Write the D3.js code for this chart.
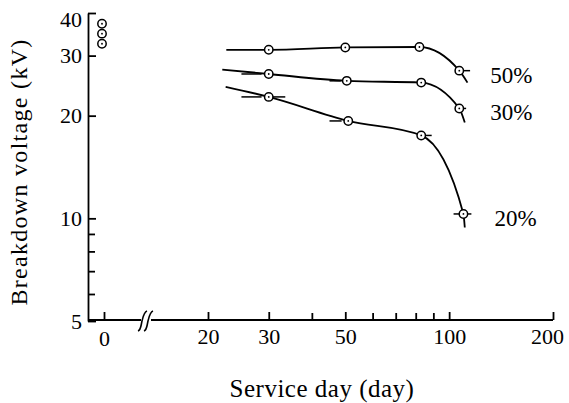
<!DOCTYPE html>
<html>
<head>
<meta charset="utf-8">
<script src="https://cdn.jsdelivr.net/npm/d3@7"></script>
<style>
body { margin: 0; background: #fff; }
text { font-family: "Liberation Serif", serif; fill: #000; }
</style>
</head>
<body>
<svg width="569" height="403"></svg>
<script>
// first and last entries of each series are the ends of the drawn line
var seriesNames = ['50%', '30%', '20%'];
var days50 = [22.6, 30, 50, 82, 107, 113];
var volts50 = [31.2, 31.2, 31.7, 31.8, 27.1, 25.0];
var days30 = [22, 30, 50.5, 83, 107, 111];
var volts30 = [27.3, 26.5, 25.3, 25.0, 21.0, 19.1];
var days20 = [22.5, 30, 51, 83, 110, 111];
var volts20 = [24.3, 22.7, 19.3, 17.5, 10.3, 9.4];
var initialVolts = [37.2, 34.8, 32.5]; // service day 0
// scatter dashes: [kV, from day, to day]
var dashes = [
  [26.5, 25, 28.6], [22.7, 25, 28.6], [22.7, 30.8, 33.5],
  [25.3, 45, 48.5], [19.3, 45, 48.8], [17.5, 85, 89],
  [27.1, 104, 115], [21.0, 104, 112], [10.3, 103, 116]
];
var yTicks = [5, 10, 20, 30, 40];
var yMinor = [6, 7, 8, 9];
var xTicks = [20, 30, 50, 100, 200];
var xMinor = [40, 60, 70, 80, 90];

var svg = d3.select('svg');
var x = d3.scaleLog().domain([20, 200]).range([208, 553]);
var y = d3.scaleLog().domain([5, 40]).range([321, 13]);
var x0 = d3.scalePoint().domain(['0']).range([104, 104]);
var axisX = 88, axisY = 320;

var series = [
  d3.zip(days50, volts50),
  d3.zip(days30, volts30),
  d3.zip(days20, volts20)
];

// y axis
var gy = svg.append('g').attr('transform', 'translate(' + axisX + ',0)')
  .call(d3.axisLeft(y).tickValues(yTicks).tickFormat(d3.format('d'))
    .tickSizeInner(-8).tickSizeOuter(0).tickPadding(6));
gy.append('g').call(d3.axisLeft(y).tickValues(yMinor).tickFormat('')
    .tickSizeInner(-7).tickSizeOuter(0))
  .select('.domain').remove();
gy.selectAll('.tick text').filter(function (d) { return d === 40; }).attr('dy', '0.6em');

// x axis
var gx = svg.append('g').attr('transform', 'translate(0,' + axisY + ')')
  .call(d3.axisBottom(x).tickValues(xTicks).tickFormat(d3.format('d'))
    .tickSizeInner(-8).tickSizeOuter(0).tickPadding(8));
gx.select('.domain').remove();
gx.selectAll('.tick text').filter(function (d) { return d === 200; }).attr('dx', -6);
gx.append('g').call(d3.axisBottom(x).tickValues(xMinor).tickFormat('')
    .tickSizeInner(-7).tickSizeOuter(0))
  .select('.domain').remove();
var gx0 = svg.append('g').attr('transform', 'translate(0,' + axisY + ')')
  .call(d3.axisBottom(x0).tickSizeInner(-8).tickSizeOuter(0).tickPadding(10));
gx0.select('.domain').remove();

svg.selectAll('.tick text').style('font-size', '22px').style('font-family', '"Liberation Serif", serif');
svg.selectAll('.tick line').attr('stroke', '#000').attr('stroke-width', 1.8);
gy.select('.domain').attr('stroke-width', 1.8);

// broken x axis line
svg.append('path')
  .attr('d', 'M' + axisX + ',' + axisY + 'H141M151,' + axisY + 'H' + x(200))
  .attr('stroke', '#000').attr('stroke-width', 1.8).attr('fill', 'none');
svg.append('path')
  .attr('d', 'M138,331c3,-1 3,-6 4,-10s2,-9 5,-10M144,331c3,-1 3,-6 4,-10s2,-9 5,-10')
  .attr('stroke', '#000').attr('stroke-width', 1.6).attr('fill', 'none');

// dashes
svg.append('g').selectAll('line').data(dashes).enter().append('line')
  .attr('x1', function (d) { return x(d[1]); })
  .attr('x2', function (d) { return x(d[2]); })
  .attr('y1', function (d) { return y(d[0]); })
  .attr('y2', function (d) { return y(d[0]); })
  .attr('stroke', '#000').attr('stroke-width', 1.5);

// curves
var line = d3.line()
  .x(function (d) { return x(d[0]); })
  .y(function (d) { return y(d[1]); })
  .curve(d3.curveMonotoneX);
svg.append('g').selectAll('path').data(series).enter().append('path')
  .attr('d', line)
  .attr('fill', 'none').attr('stroke', '#000').attr('stroke-width', 1.8);

// points
var pts = [];
series.forEach(function (s) {
  s.slice(1, s.length - 1).forEach(function (p) { pts.push([x(p[0]), y(p[1])]); });
});
initialVolts.forEach(function (v) { pts.push([x0('0') - 2, y(v)]); });
var pg = svg.append('g').selectAll('g').data(pts).enter().append('g')
  .attr('transform', function (d) { return 'translate(' + d[0] + ',' + d[1] + ')'; });
pg.append('circle').attr('r', 4.2).attr('fill', '#fff').attr('stroke', '#000').attr('stroke-width', 1.5);
pg.append('circle').attr('r', 0.9).attr('fill', '#000');

// series labels
svg.append('g').selectAll('text').data(series).enter().append('text')
  .attr('x', function (d) { return x(d[4][0]) + 31; })
  .attr('y', function (d) { return y(d[4][1]) + 12; })
  .style('font-size', '23px')
  .text(function (d, i) { return seriesNames[i]; });

// axis titles
svg.append('text')
  .attr('transform', 'translate(27,172) rotate(-90)')
  .attr('text-anchor', 'middle')
  .style('font-size', '24px').style('letter-spacing', '1.3px')
  .text('Breakdown voltage (kV)');
svg.append('text')
  .attr('x', 322).attr('y', 397)
  .attr('text-anchor', 'middle')
  .style('font-size', '25px').style('letter-spacing', '0.5px')
  .text('Service day (day)');
</script>
</body>
</html>
